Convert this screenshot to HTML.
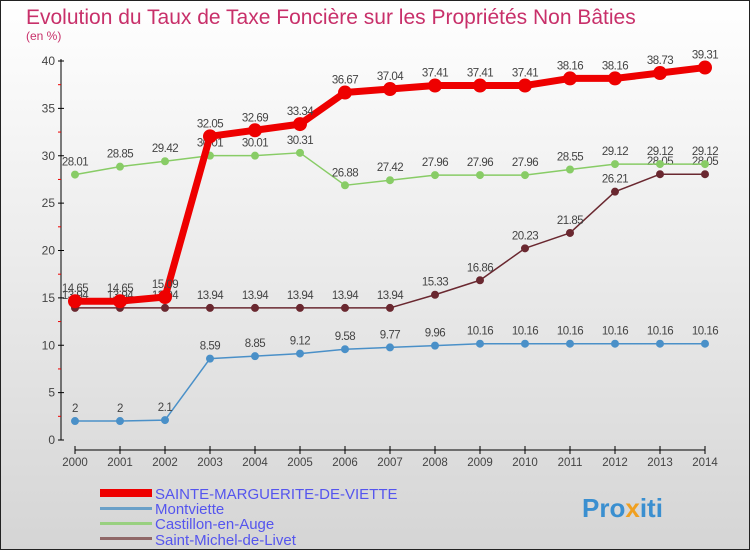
<!DOCTYPE html>
<html><head><meta charset="utf-8"><style>
body{margin:0}
svg{display:block;font-family:"Liberation Sans",sans-serif}
</style></head><body>
<svg id="chart" width="750" height="550" viewBox="0 0 750 550">
<defs><linearGradient id="bg" x1="0" y1="0" x2="0" y2="1"><stop offset="0" stop-color="#ffffff"/><stop offset="1" stop-color="#d5d5d5"/></linearGradient></defs>
<rect x="0.5" y="0.5" width="749" height="549" fill="url(#bg)" stroke="#222"/>
<text x="26" y="24" font-size="21" fill="#c8306a">Evolution du Taux de Taxe Foncière sur les Propriétés Non Bâties</text>
<text x="26" y="40" font-size="12" fill="#c8306a">(en %)</text>
<g id="axes"></g>
<g id="series"></g>
<g>
<rect x="100" y="489" width="52" height="8" fill="#e00"/>
<text x="155" y="499" font-size="15" fill="#5555ee">SAINTE-MARGUERITE-DE-VIETTE</text>
<rect x="100" y="507" width="52" height="3" fill="#6aa0c8"/>
<text x="155" y="514" font-size="15" fill="#5555ee">Montviette</text>
<rect x="100" y="522" width="52" height="3" fill="#99d080"/>
<text x="155" y="529" font-size="15" fill="#5555ee">Castillon-en-Auge</text>
<rect x="100" y="537" width="52" height="3" fill="#906868"/>
<text x="155" y="545" font-size="15" fill="#5555ee">Saint-Michel-de-Livet</text>
</g>
<text x="582" y="517" font-size="26" font-weight="bold" fill="#3a8fd0">Pro<tspan fill="#f0a020">x</tspan>iti</text>
</svg>
<script>
const years=[2000,2001,2002,2003,2004,2005,2006,2007,2008,2009,2010,2011,2012,2013,2014];
const yTicks=[0,5,10,15,20,25,30,35,40];
const sainte=[14.65,14.65,15.09,32.05,32.69,33.34,36.67,37.04,37.41,37.41,37.41,38.16,38.16,38.73,39.31];
const montviette=[2,2,2.1,8.59,8.85,9.12,9.58,9.77,9.96,10.16,10.16,10.16,10.16,10.16,10.16];
const castillon=[28.01,28.85,29.42,30.01,30.01,30.31,26.88,27.42,27.96,27.96,27.96,28.55,29.12,29.12,29.12];
const michel=[13.94,13.94,13.94,13.94,13.94,13.94,13.94,13.94,15.33,16.86,20.23,21.85,26.21,28.05,28.05];
const NS="http://www.w3.org/2000/svg";
const xS=i=>75+i*45.0;
const yS=v=>440-v*9.475;
function mk(p,t,a){const e=document.createElementNS(NS,t);for(const k in a)e.setAttribute(k,a[k]);p.appendChild(e);return e;}
const ax=document.getElementById('axes');
mk(ax,'line',{x1:61,y1:59,x2:61,y2:440,stroke:'#000','stroke-width':1});
mk(ax,'line',{x1:75,y1:450,x2:705,y2:450,stroke:'#000','stroke-width':1});
yTicks.forEach(v=>{
 mk(ax,'line',{x1:58,y1:yS(v),x2:64,y2:yS(v),stroke:'#000'});
 if(v<40)mk(ax,'line',{x1:58,y1:yS(v+2.5),x2:61,y2:yS(v+2.5),stroke:'#e00'});
 const t=mk(ax,'text',{x:55,y:yS(v)+4,'font-size':12,fill:'#444','text-anchor':'end'});
 
 
 t.textContent=v;
});
years.forEach((y,i)=>{
 mk(ax,'line',{x1:xS(i),y1:446,x2:xS(i),y2:454,stroke:'#000'});
 const t=mk(ax,'text',{x:xS(i),y:466,'font-size':11.5,fill:'#444','text-anchor':'middle'});
 
 
 t.textContent=y;
});
const sg=document.getElementById('series');
function draw(name,vals,color,fill,w,r){
 const g=mk(sg,'g',{});
 
 
 mk(g,'polyline',{points:vals.map((v,i)=>xS(i)+','+yS(v)).join(' '),fill:'none',stroke:color,'stroke-width':w,'stroke-linejoin':'round'});
 vals.forEach((v,i)=>{
  const c=mk(g,'circle',{cx:xS(i),cy:yS(v),r:r,fill:fill,stroke:color,'stroke-width':1});
  
  
  const t=mk(g,'text',{x:xS(i),y:yS(v)-9,'font-size':11.5,fill:'#444','text-anchor':'middle','letter-spacing':'-0.5'});
  
  
  t.textContent=v;
 });
}
draw('montviette',montviette,'#4a90c8','#4a90c8',1.5,3.5);
draw('saint-michel',michel,'#6a2830','#6a2830',1.5,3.5);
draw('castillon',castillon,'#88cc66','#88cc66',1.5,3.5);
draw('sainte-marguerite',sainte,'#e00','#e00',7,6.5);
</script>
</body></html>
